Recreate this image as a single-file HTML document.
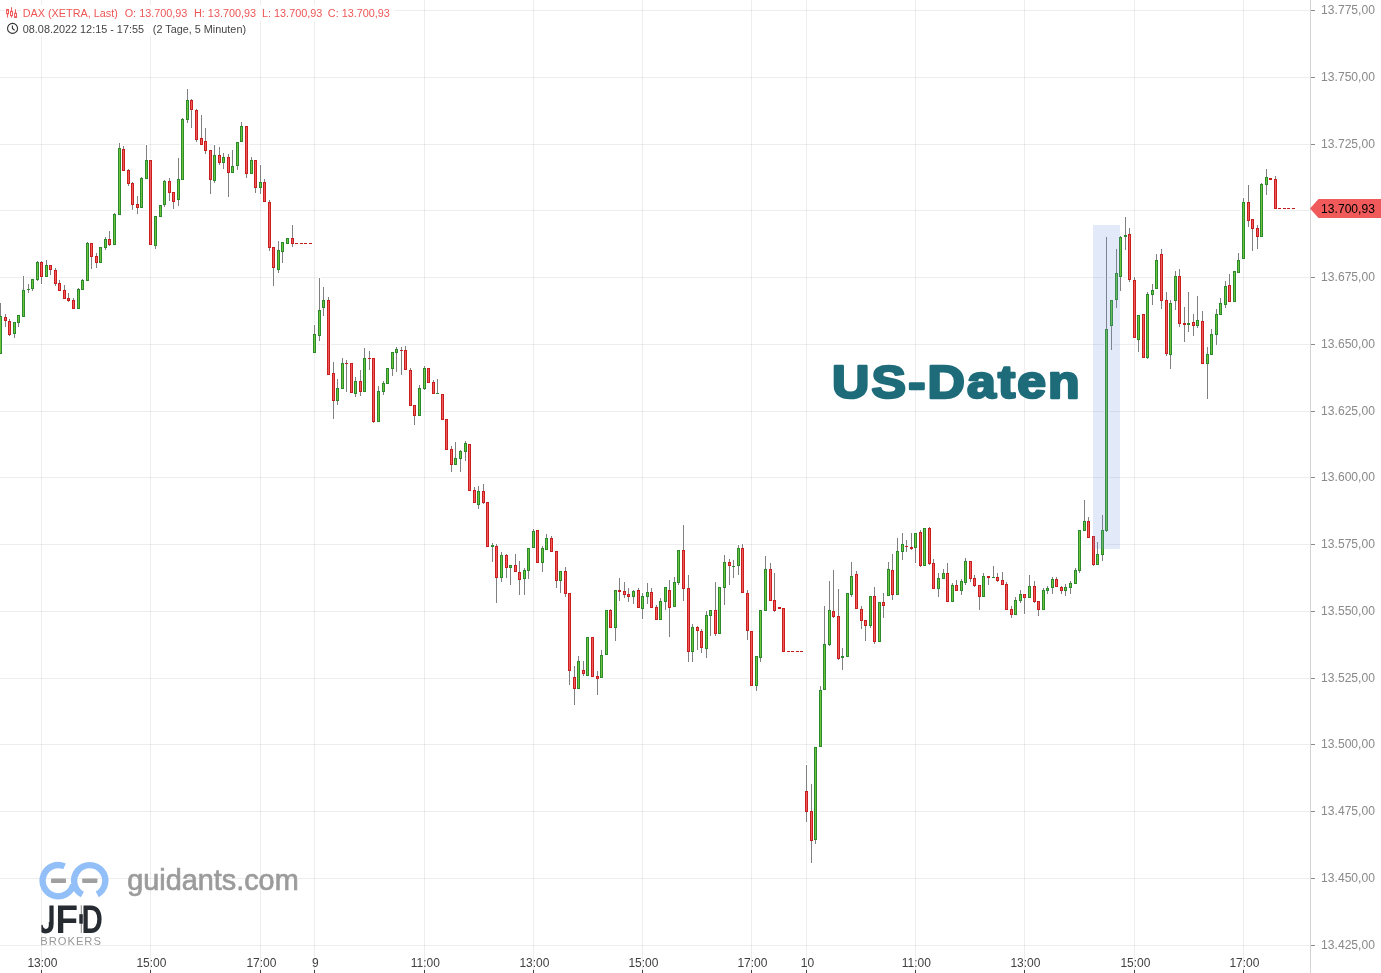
<!DOCTYPE html>
<html><head><meta charset="utf-8"><title>DAX Chart</title><style>
html,body{margin:0;padding:0;background:#fff;}
body{width:1381px;height:973px;overflow:hidden;position:relative;font-family:"Liberation Sans",Arial,sans-serif;}
svg{position:absolute;left:0;top:0;display:block;}
</style></head><body>
<svg width="1381" height="973" viewBox="0 0 1381 973">
<rect x="0" y="0" width="1381" height="973" fill="#fff"/>
<g fill="#000" fill-opacity="0.072">
<rect x="0" y="10" width="1310" height="1"/>
<rect x="0" y="77" width="1310" height="1"/>
<rect x="0" y="144" width="1310" height="1"/>
<rect x="0" y="210" width="1310" height="1"/>
<rect x="0" y="277" width="1310" height="1"/>
<rect x="0" y="344" width="1310" height="1"/>
<rect x="0" y="411" width="1310" height="1"/>
<rect x="0" y="477" width="1310" height="1"/>
<rect x="0" y="544" width="1310" height="1"/>
<rect x="0" y="611" width="1310" height="1"/>
<rect x="0" y="678" width="1310" height="1"/>
<rect x="0" y="744" width="1310" height="1"/>
<rect x="0" y="811" width="1310" height="1"/>
<rect x="0" y="878" width="1310" height="1"/>
<rect x="0" y="945" width="1310" height="1"/>
<rect x="41" y="0" width="1" height="970"/>
<rect x="150" y="0" width="1" height="970"/>
<rect x="260" y="0" width="1" height="970"/>
<rect x="314" y="0" width="1" height="970"/>
<rect x="424" y="0" width="1" height="970"/>
<rect x="533" y="0" width="1" height="970"/>
<rect x="642" y="0" width="1" height="970"/>
<rect x="751" y="0" width="1" height="970"/>
<rect x="806" y="0" width="1" height="970"/>
<rect x="915" y="0" width="1" height="970"/>
<rect x="1024" y="0" width="1" height="970"/>
<rect x="1134" y="0" width="1" height="970"/>
<rect x="1243" y="0" width="1" height="970"/>
</g>
<g id="logo">
<path d="M64.55,866.45 A15.6,15.6 0 1 0 73.27,884.74" fill="none" stroke="#92bff8" stroke-width="6.4"/>
<path d="M82.38,894.47 A15.6,15.6 0 1 1 97.26,894.34" fill="none" stroke="#92bff8" stroke-width="6.4"/>
<rect x="51" y="878.4" width="15" height="4.6" rx="0.8" fill="#a0a0a0"/>
<rect x="82.2" y="878.4" width="15.2" height="4.6" rx="0.8" fill="#a0a0a0"/>
<text x="127.35" y="889.6" font-family="Liberation Sans, Arial, sans-serif" font-size="28.8" fill="#9b9b9b" stroke="#9b9b9b" stroke-width="0.7">guidants.com</text>
<g fill="#262b32" font-family="Liberation Sans, Arial, sans-serif" font-weight="bold" font-size="40.1" text-rendering="geometricPrecision">
<clipPath id="jclip"><path d="M49.4,890 L70,890 L70,940 L41.4,940 L41.4,922 L49.4,922 Z"/></clipPath>
<g clip-path="url(#jclip)">
<text x="0" y="932.9" transform="translate(37.23,0) scale(0.838,1)">J</text>
</g>
<text x="0" y="932.9" transform="translate(55.52,0) scale(0.919,1)">F</text>
<text x="0" y="932.9" transform="translate(81.43,0) scale(0.736,1)">D</text>
</g>
<rect x="80.8" y="905.2" width="0.9" height="27.7" fill="#777"/>
<rect x="79.3" y="914.2" width="3.5" height="9.5" fill="#262b32"/>
<text x="40.2" y="945.3" font-family="Liberation Sans, Arial, sans-serif" font-size="11.2" letter-spacing="1.0" fill="#999">BROKERS</text>
</g>
<text x="0" y="397.95" transform="translate(832.11,0) scale(1.13,1)" font-family="Liberation Sans, Arial, sans-serif" font-weight="bold" font-size="45.8" fill="#1e6b7a" stroke="#1e6b7a" stroke-width="2.5" stroke-linejoin="round" letter-spacing="1.86">US-Daten</text>
<g fill="#fff" shape-rendering="crispEdges"><rect x="-1" y="302" width="3" height="53"/><rect x="-2" y="315" width="5" height="40"/><rect x="4" y="313" width="3" height="15"/><rect x="3" y="316" width="5" height="6"/><rect x="8" y="318" width="3" height="19"/><rect x="7" y="320" width="5" height="16"/><rect x="13" y="321" width="3" height="18"/><rect x="12" y="321" width="5" height="14"/><rect x="17" y="314" width="3" height="14"/><rect x="16" y="314" width="5" height="10"/><rect x="22" y="275" width="3" height="43"/><rect x="21" y="289" width="5" height="29"/><rect x="27" y="283" width="3" height="11"/><rect x="26" y="288" width="5" height="3"/><rect x="31" y="278" width="3" height="14"/><rect x="30" y="278" width="5" height="12"/><rect x="36" y="260" width="3" height="22"/><rect x="35" y="261" width="5" height="20"/><rect x="40" y="260" width="3" height="25"/><rect x="39" y="261" width="5" height="17"/><rect x="45" y="259" width="3" height="19"/><rect x="44" y="264" width="5" height="14"/><rect x="49" y="264" width="3" height="12"/><rect x="48" y="264" width="5" height="7"/><rect x="54" y="267" width="3" height="20"/><rect x="53" y="269" width="5" height="16"/><rect x="58" y="279" width="3" height="13"/><rect x="57" y="282" width="5" height="10"/><rect x="63" y="284" width="3" height="16"/><rect x="62" y="289" width="5" height="11"/><rect x="67" y="292" width="3" height="11"/><rect x="66" y="297" width="5" height="5"/><rect x="72" y="297" width="3" height="13"/><rect x="71" y="299" width="5" height="11"/><rect x="77" y="287" width="3" height="23"/><rect x="76" y="288" width="5" height="22"/><rect x="81" y="278" width="3" height="13"/><rect x="80" y="279" width="5" height="12"/><rect x="86" y="241" width="3" height="41"/><rect x="85" y="242" width="5" height="40"/><rect x="90" y="242" width="3" height="28"/><rect x="89" y="242" width="5" height="16"/><rect x="95" y="252" width="3" height="17"/><rect x="94" y="255" width="5" height="9"/><rect x="99" y="246" width="3" height="18"/><rect x="98" y="246" width="5" height="18"/><rect x="104" y="236" width="3" height="15"/><rect x="103" y="238" width="5" height="11"/><rect x="108" y="230" width="3" height="17"/><rect x="107" y="238" width="5" height="8"/><rect x="113" y="212" width="3" height="34"/><rect x="112" y="213" width="5" height="33"/><rect x="118" y="142" width="3" height="74"/><rect x="117" y="147" width="5" height="69"/><rect x="122" y="145" width="3" height="27"/><rect x="121" y="148" width="5" height="24"/><rect x="127" y="168" width="3" height="19"/><rect x="126" y="169" width="5" height="16"/><rect x="131" y="181" width="3" height="30"/><rect x="130" y="182" width="5" height="24"/><rect x="136" y="195" width="3" height="20"/><rect x="135" y="203" width="5" height="6"/><rect x="140" y="176" width="3" height="33"/><rect x="139" y="177" width="5" height="32"/><rect x="145" y="144" width="3" height="36"/><rect x="144" y="159" width="5" height="21"/><rect x="149" y="159" width="3" height="87"/><rect x="148" y="159" width="5" height="87"/><rect x="154" y="215" width="3" height="35"/><rect x="153" y="215" width="5" height="32"/><rect x="159" y="204" width="3" height="14"/><rect x="158" y="204" width="5" height="14"/><rect x="163" y="179" width="3" height="29"/><rect x="162" y="180" width="5" height="26"/><rect x="168" y="177" width="3" height="25"/><rect x="167" y="180" width="5" height="14"/><rect x="172" y="191" width="3" height="19"/><rect x="171" y="191" width="5" height="12"/><rect x="177" y="157" width="3" height="50"/><rect x="176" y="178" width="5" height="23"/><rect x="181" y="117" width="3" height="64"/><rect x="180" y="118" width="5" height="63"/><rect x="186" y="88" width="3" height="36"/><rect x="185" y="99" width="5" height="22"/><rect x="190" y="98" width="3" height="31"/><rect x="189" y="99" width="5" height="12"/><rect x="195" y="108" width="3" height="35"/><rect x="194" y="109" width="5" height="32"/><rect x="200" y="114" width="3" height="32"/><rect x="199" y="137" width="5" height="9"/><rect x="204" y="127" width="3" height="28"/><rect x="203" y="140" width="5" height="12"/><rect x="209" y="149" width="3" height="46"/><rect x="208" y="149" width="5" height="32"/><rect x="213" y="144" width="3" height="40"/><rect x="212" y="154" width="5" height="28"/><rect x="218" y="146" width="3" height="20"/><rect x="217" y="154" width="5" height="10"/><rect x="222" y="152" width="3" height="18"/><rect x="221" y="156" width="5" height="8"/><rect x="227" y="153" width="3" height="45"/><rect x="226" y="156" width="5" height="18"/><rect x="231" y="149" width="3" height="25"/><rect x="230" y="165" width="5" height="9"/><rect x="236" y="141" width="3" height="30"/><rect x="235" y="141" width="5" height="26"/><rect x="240" y="121" width="3" height="22"/><rect x="239" y="125" width="5" height="18"/><rect x="245" y="125" width="3" height="54"/><rect x="244" y="125" width="5" height="50"/><rect x="250" y="156" width="3" height="19"/><rect x="249" y="159" width="5" height="16"/><rect x="254" y="159" width="3" height="35"/><rect x="253" y="159" width="5" height="30"/><rect x="259" y="164" width="3" height="31"/><rect x="258" y="181" width="5" height="8"/><rect x="263" y="178" width="3" height="25"/><rect x="262" y="181" width="5" height="22"/><rect x="268" y="199" width="3" height="53"/><rect x="267" y="201" width="5" height="48"/><rect x="272" y="246" width="3" height="41"/><rect x="271" y="246" width="5" height="23"/><rect x="277" y="240" width="3" height="34"/><rect x="276" y="249" width="5" height="22"/><rect x="281" y="241" width="3" height="23"/><rect x="280" y="241" width="5" height="12"/><rect x="286" y="237" width="3" height="8"/><rect x="285" y="237" width="5" height="8"/><rect x="291" y="224" width="3" height="24"/><rect x="290" y="237" width="5" height="8"/><rect x="313" y="324" width="3" height="30"/><rect x="312" y="333" width="5" height="21"/><rect x="318" y="277" width="3" height="65"/><rect x="317" y="309" width="5" height="28"/><rect x="322" y="286" width="3" height="31"/><rect x="321" y="299" width="5" height="10"/><rect x="327" y="296" width="3" height="80"/><rect x="326" y="299" width="5" height="77"/><rect x="332" y="361" width="3" height="59"/><rect x="331" y="372" width="5" height="30"/><rect x="336" y="378" width="3" height="28"/><rect x="335" y="387" width="5" height="15"/><rect x="341" y="357" width="3" height="33"/><rect x="340" y="362" width="5" height="28"/><rect x="345" y="359" width="3" height="34"/><rect x="344" y="362" width="5" height="3"/><rect x="350" y="362" width="3" height="32"/><rect x="349" y="362" width="5" height="32"/><rect x="354" y="376" width="3" height="22"/><rect x="353" y="380" width="5" height="15"/><rect x="359" y="369" width="3" height="28"/><rect x="358" y="380" width="5" height="13"/><rect x="363" y="347" width="3" height="46"/><rect x="362" y="357" width="5" height="36"/><rect x="368" y="350" width="3" height="21"/><rect x="367" y="357" width="5" height="3"/><rect x="372" y="357" width="3" height="67"/><rect x="371" y="357" width="5" height="66"/><rect x="377" y="385" width="3" height="38"/><rect x="376" y="390" width="5" height="33"/><rect x="382" y="380" width="3" height="16"/><rect x="381" y="382" width="5" height="11"/><rect x="386" y="367" width="3" height="18"/><rect x="385" y="367" width="5" height="18"/><rect x="391" y="351" width="3" height="26"/><rect x="390" y="351" width="5" height="19"/><rect x="395" y="346" width="3" height="27"/><rect x="394" y="348" width="5" height="6"/><rect x="400" y="346" width="3" height="30"/><rect x="399" y="349" width="5" height="3"/><rect x="404" y="345" width="3" height="26"/><rect x="403" y="349" width="5" height="22"/><rect x="409" y="367" width="3" height="40"/><rect x="408" y="369" width="5" height="38"/><rect x="413" y="404" width="3" height="22"/><rect x="412" y="404" width="5" height="13"/><rect x="418" y="384" width="3" height="33"/><rect x="417" y="387" width="5" height="30"/><rect x="423" y="365" width="3" height="26"/><rect x="422" y="367" width="5" height="23"/><rect x="427" y="367" width="3" height="17"/><rect x="426" y="367" width="5" height="17"/><rect x="432" y="379" width="3" height="16"/><rect x="431" y="381" width="5" height="14"/><rect x="436" y="378" width="3" height="17"/><rect x="435" y="392" width="5" height="3"/><rect x="441" y="393" width="3" height="28"/><rect x="440" y="393" width="5" height="28"/><rect x="445" y="418" width="3" height="33"/><rect x="444" y="418" width="5" height="33"/><rect x="450" y="445" width="3" height="28"/><rect x="449" y="448" width="5" height="18"/><rect x="454" y="441" width="3" height="25"/><rect x="453" y="457" width="5" height="9"/><rect x="459" y="449" width="3" height="24"/><rect x="458" y="450" width="5" height="10"/><rect x="464" y="440" width="3" height="22"/><rect x="463" y="442" width="5" height="11"/><rect x="468" y="443" width="3" height="49"/><rect x="467" y="443" width="5" height="49"/><rect x="473" y="486" width="3" height="18"/><rect x="472" y="489" width="5" height="15"/><rect x="477" y="485" width="3" height="25"/><rect x="476" y="490" width="5" height="16"/><rect x="482" y="483" width="3" height="22"/><rect x="481" y="490" width="5" height="14"/><rect x="486" y="501" width="3" height="47"/><rect x="485" y="501" width="5" height="47"/><rect x="491" y="542" width="3" height="21"/><rect x="490" y="544" width="5" height="4"/><rect x="495" y="543" width="3" height="61"/><rect x="494" y="545" width="5" height="34"/><rect x="500" y="551" width="3" height="32"/><rect x="499" y="554" width="5" height="25"/><rect x="505" y="553" width="3" height="26"/><rect x="504" y="554" width="5" height="15"/><rect x="509" y="564" width="3" height="22"/><rect x="508" y="564" width="5" height="5"/><rect x="514" y="553" width="3" height="20"/><rect x="513" y="564" width="5" height="9"/><rect x="518" y="560" width="3" height="36"/><rect x="517" y="571" width="5" height="10"/><rect x="523" y="567" width="3" height="29"/><rect x="522" y="569" width="5" height="11"/><rect x="527" y="547" width="3" height="33"/><rect x="526" y="547" width="5" height="25"/><rect x="532" y="528" width="3" height="21"/><rect x="531" y="530" width="5" height="19"/><rect x="536" y="529" width="3" height="35"/><rect x="535" y="529" width="5" height="35"/><rect x="541" y="545" width="3" height="28"/><rect x="540" y="547" width="5" height="17"/><rect x="545" y="533" width="3" height="18"/><rect x="544" y="537" width="5" height="14"/><rect x="550" y="535" width="3" height="18"/><rect x="549" y="537" width="5" height="16"/><rect x="555" y="550" width="3" height="39"/><rect x="554" y="550" width="5" height="32"/><rect x="559" y="570" width="3" height="24"/><rect x="558" y="570" width="5" height="12"/><rect x="564" y="566" width="3" height="32"/><rect x="563" y="570" width="5" height="25"/><rect x="568" y="592" width="3" height="94"/><rect x="567" y="592" width="5" height="80"/><rect x="573" y="665" width="3" height="41"/><rect x="572" y="676" width="5" height="14"/><rect x="577" y="655" width="3" height="35"/><rect x="576" y="660" width="5" height="30"/><rect x="582" y="660" width="3" height="17"/><rect x="581" y="669" width="5" height="6"/><rect x="586" y="636" width="3" height="41"/><rect x="585" y="636" width="5" height="41"/><rect x="591" y="636" width="3" height="42"/><rect x="590" y="636" width="5" height="42"/><rect x="596" y="670" width="3" height="26"/><rect x="595" y="675" width="5" height="5"/><rect x="600" y="649" width="3" height="30"/><rect x="599" y="654" width="5" height="25"/><rect x="605" y="609" width="3" height="47"/><rect x="604" y="609" width="5" height="47"/><rect x="609" y="608" width="3" height="21"/><rect x="608" y="609" width="5" height="20"/><rect x="614" y="589" width="3" height="53"/><rect x="613" y="589" width="5" height="40"/><rect x="618" y="577" width="3" height="25"/><rect x="617" y="589" width="5" height="4"/><rect x="623" y="581" width="3" height="18"/><rect x="622" y="590" width="5" height="6"/><rect x="627" y="587" width="3" height="16"/><rect x="626" y="593" width="5" height="5"/><rect x="632" y="589" width="3" height="16"/><rect x="631" y="590" width="5" height="8"/><rect x="637" y="587" width="3" height="22"/><rect x="636" y="589" width="5" height="20"/><rect x="641" y="592" width="3" height="28"/><rect x="640" y="595" width="5" height="15"/><rect x="646" y="582" width="3" height="23"/><rect x="645" y="591" width="5" height="7"/><rect x="650" y="587" width="3" height="22"/><rect x="649" y="591" width="5" height="18"/><rect x="655" y="604" width="3" height="17"/><rect x="654" y="606" width="5" height="15"/><rect x="659" y="597" width="3" height="24"/><rect x="658" y="600" width="5" height="21"/><rect x="664" y="586" width="3" height="25"/><rect x="663" y="586" width="5" height="17"/><rect x="668" y="579" width="3" height="59"/><rect x="667" y="589" width="5" height="20"/><rect x="673" y="576" width="3" height="32"/><rect x="672" y="581" width="5" height="27"/><rect x="677" y="549" width="3" height="37"/><rect x="676" y="549" width="5" height="35"/><rect x="682" y="524" width="3" height="78"/><rect x="681" y="549" width="5" height="41"/><rect x="687" y="574" width="3" height="89"/><rect x="686" y="587" width="5" height="66"/><rect x="691" y="623" width="3" height="40"/><rect x="690" y="626" width="5" height="27"/><rect x="696" y="625" width="3" height="26"/><rect x="695" y="626" width="5" height="6"/><rect x="700" y="628" width="3" height="26"/><rect x="699" y="630" width="5" height="19"/><rect x="705" y="610" width="3" height="49"/><rect x="704" y="614" width="5" height="36"/><rect x="709" y="609" width="3" height="28"/><rect x="708" y="609" width="5" height="8"/><rect x="714" y="581" width="3" height="56"/><rect x="713" y="609" width="5" height="26"/><rect x="718" y="586" width="3" height="49"/><rect x="717" y="586" width="5" height="49"/><rect x="723" y="554" width="3" height="52"/><rect x="722" y="561" width="5" height="28"/><rect x="728" y="558" width="3" height="28"/><rect x="727" y="561" width="5" height="6"/><rect x="732" y="559" width="3" height="20"/><rect x="731" y="565" width="5" height="3"/><rect x="737" y="544" width="3" height="32"/><rect x="736" y="547" width="5" height="20"/><rect x="741" y="543" width="3" height="51"/><rect x="740" y="547" width="5" height="47"/><rect x="746" y="589" width="3" height="52"/><rect x="745" y="592" width="5" height="40"/><rect x="750" y="630" width="3" height="57"/><rect x="749" y="630" width="5" height="57"/><rect x="755" y="655" width="3" height="37"/><rect x="754" y="655" width="5" height="32"/><rect x="759" y="609" width="3" height="54"/><rect x="758" y="609" width="5" height="50"/><rect x="764" y="555" width="3" height="57"/><rect x="763" y="568" width="5" height="44"/><rect x="769" y="562" width="3" height="40"/><rect x="768" y="568" width="5" height="34"/><rect x="773" y="572" width="3" height="41"/><rect x="772" y="599" width="5" height="13"/><rect x="782" y="607" width="3" height="46"/><rect x="781" y="607" width="5" height="46"/><rect x="805" y="764" width="3" height="59"/><rect x="804" y="790" width="5" height="23"/><rect x="810" y="783" width="3" height="81"/><rect x="809" y="810" width="5" height="32"/><rect x="814" y="746" width="3" height="99"/><rect x="813" y="746" width="5" height="95"/><rect x="819" y="685" width="3" height="63"/><rect x="818" y="689" width="5" height="59"/><rect x="823" y="605" width="3" height="86"/><rect x="822" y="643" width="5" height="48"/><rect x="828" y="580" width="3" height="67"/><rect x="827" y="609" width="5" height="37"/><rect x="832" y="569" width="3" height="50"/><rect x="831" y="610" width="5" height="8"/><rect x="837" y="588" width="3" height="73"/><rect x="836" y="615" width="5" height="45"/><rect x="841" y="647" width="3" height="24"/><rect x="840" y="655" width="5" height="4"/><rect x="846" y="592" width="3" height="66"/><rect x="845" y="592" width="5" height="66"/><rect x="850" y="561" width="3" height="37"/><rect x="849" y="575" width="5" height="21"/><rect x="855" y="570" width="3" height="40"/><rect x="854" y="573" width="5" height="37"/><rect x="860" y="605" width="3" height="25"/><rect x="859" y="608" width="5" height="14"/><rect x="864" y="619" width="3" height="23"/><rect x="863" y="619" width="5" height="8"/><rect x="869" y="595" width="3" height="34"/><rect x="868" y="595" width="5" height="32"/><rect x="873" y="586" width="3" height="59"/><rect x="872" y="595" width="5" height="48"/><rect x="878" y="601" width="3" height="42"/><rect x="877" y="601" width="5" height="42"/><rect x="882" y="592" width="3" height="27"/><rect x="881" y="601" width="5" height="6"/><rect x="887" y="561" width="3" height="36"/><rect x="886" y="568" width="5" height="29"/><rect x="891" y="553" width="3" height="48"/><rect x="890" y="569" width="5" height="27"/><rect x="896" y="537" width="3" height="59"/><rect x="895" y="550" width="5" height="46"/><rect x="901" y="532" width="3" height="29"/><rect x="900" y="543" width="5" height="10"/><rect x="905" y="539" width="3" height="14"/><rect x="904" y="545" width="5" height="3"/><rect x="910" y="532" width="3" height="19"/><rect x="909" y="546" width="5" height="4"/><rect x="914" y="532" width="3" height="32"/><rect x="913" y="532" width="5" height="17"/><rect x="919" y="529" width="3" height="39"/><rect x="918" y="531" width="5" height="36"/><rect x="923" y="527" width="3" height="40"/><rect x="922" y="527" width="5" height="40"/><rect x="928" y="526" width="3" height="40"/><rect x="927" y="527" width="5" height="38"/><rect x="932" y="558" width="3" height="32"/><rect x="931" y="562" width="5" height="28"/><rect x="937" y="572" width="3" height="26"/><rect x="936" y="577" width="5" height="13"/><rect x="942" y="568" width="3" height="12"/><rect x="941" y="572" width="5" height="8"/><rect x="946" y="562" width="3" height="41"/><rect x="945" y="572" width="5" height="31"/><rect x="951" y="582" width="3" height="21"/><rect x="950" y="584" width="5" height="19"/><rect x="955" y="579" width="3" height="13"/><rect x="954" y="584" width="5" height="8"/><rect x="960" y="578" width="3" height="18"/><rect x="959" y="580" width="5" height="12"/><rect x="964" y="557" width="3" height="29"/><rect x="963" y="560" width="5" height="24"/><rect x="969" y="560" width="3" height="23"/><rect x="968" y="560" width="5" height="20"/><rect x="973" y="574" width="3" height="14"/><rect x="972" y="577" width="5" height="10"/><rect x="978" y="584" width="3" height="27"/><rect x="977" y="584" width="5" height="14"/><rect x="982" y="572" width="3" height="26"/><rect x="981" y="575" width="5" height="23"/><rect x="987" y="575" width="3" height="11"/><rect x="986" y="575" width="5" height="4"/><rect x="992" y="565" width="3" height="14"/><rect x="991" y="576" width="5" height="3"/><rect x="996" y="572" width="3" height="11"/><rect x="995" y="576" width="5" height="6"/><rect x="1001" y="571" width="3" height="15"/><rect x="1000" y="579" width="5" height="7"/><rect x="1005" y="581" width="3" height="30"/><rect x="1004" y="583" width="5" height="28"/><rect x="1010" y="605" width="3" height="14"/><rect x="1009" y="608" width="5" height="8"/><rect x="1014" y="596" width="3" height="20"/><rect x="1013" y="599" width="5" height="17"/><rect x="1019" y="589" width="3" height="15"/><rect x="1018" y="593" width="5" height="9"/><rect x="1023" y="593" width="3" height="22"/><rect x="1022" y="593" width="5" height="6"/><rect x="1028" y="574" width="3" height="25"/><rect x="1027" y="585" width="5" height="14"/><rect x="1033" y="580" width="3" height="24"/><rect x="1032" y="585" width="5" height="18"/><rect x="1037" y="600" width="3" height="17"/><rect x="1036" y="600" width="5" height="11"/><rect x="1042" y="587" width="3" height="24"/><rect x="1041" y="589" width="5" height="22"/><rect x="1046" y="585" width="3" height="10"/><rect x="1045" y="587" width="5" height="5"/><rect x="1051" y="576" width="3" height="19"/><rect x="1050" y="578" width="5" height="11"/><rect x="1055" y="576" width="3" height="12"/><rect x="1054" y="578" width="5" height="10"/><rect x="1060" y="585" width="3" height="10"/><rect x="1059" y="586" width="5" height="6"/><rect x="1064" y="583" width="3" height="14"/><rect x="1063" y="586" width="5" height="6"/><rect x="1069" y="580" width="3" height="15"/><rect x="1068" y="582" width="5" height="7"/><rect x="1074" y="567" width="3" height="18"/><rect x="1073" y="569" width="5" height="16"/><rect x="1078" y="529" width="3" height="45"/><rect x="1077" y="529" width="5" height="43"/><rect x="1083" y="499" width="3" height="33"/><rect x="1082" y="520" width="5" height="12"/><rect x="1087" y="516" width="3" height="23"/><rect x="1086" y="520" width="5" height="19"/><rect x="1092" y="535" width="3" height="32"/><rect x="1091" y="535" width="5" height="31"/><rect x="1096" y="541" width="3" height="25"/><rect x="1095" y="553" width="5" height="13"/><rect x="1101" y="514" width="3" height="48"/><rect x="1100" y="529" width="5" height="27"/><rect x="1105" y="236" width="3" height="297"/><rect x="1104" y="328" width="5" height="204"/><rect x="1110" y="299" width="3" height="52"/><rect x="1109" y="299" width="5" height="28"/><rect x="1115" y="248" width="3" height="61"/><rect x="1114" y="272" width="5" height="29"/><rect x="1119" y="235" width="3" height="57"/><rect x="1118" y="236" width="5" height="42"/><rect x="1124" y="216" width="3" height="35"/><rect x="1123" y="234" width="5" height="4"/><rect x="1128" y="227" width="3" height="56"/><rect x="1127" y="233" width="5" height="48"/><rect x="1133" y="276" width="3" height="63"/><rect x="1132" y="279" width="5" height="60"/><rect x="1137" y="314" width="3" height="39"/><rect x="1136" y="314" width="5" height="27"/><rect x="1142" y="313" width="3" height="46"/><rect x="1141" y="313" width="5" height="46"/><rect x="1146" y="291" width="3" height="69"/><rect x="1145" y="293" width="5" height="66"/><rect x="1151" y="283" width="3" height="23"/><rect x="1150" y="289" width="5" height="7"/><rect x="1155" y="253" width="3" height="37"/><rect x="1154" y="259" width="5" height="31"/><rect x="1160" y="248" width="3" height="62"/><rect x="1159" y="253" width="5" height="49"/><rect x="1165" y="291" width="3" height="66"/><rect x="1164" y="299" width="5" height="56"/><rect x="1169" y="299" width="3" height="71"/><rect x="1168" y="302" width="5" height="54"/><rect x="1174" y="270" width="3" height="41"/><rect x="1173" y="275" width="5" height="27"/><rect x="1178" y="268" width="3" height="60"/><rect x="1177" y="275" width="5" height="50"/><rect x="1183" y="306" width="3" height="37"/><rect x="1182" y="322" width="5" height="4"/><rect x="1187" y="291" width="3" height="42"/><rect x="1186" y="322" width="5" height="4"/><rect x="1192" y="313" width="3" height="24"/><rect x="1191" y="321" width="5" height="6"/><rect x="1196" y="295" width="3" height="34"/><rect x="1195" y="319" width="5" height="8"/><rect x="1201" y="310" width="3" height="55"/><rect x="1200" y="320" width="5" height="45"/><rect x="1206" y="346" width="3" height="54"/><rect x="1205" y="353" width="5" height="12"/><rect x="1210" y="328" width="3" height="28"/><rect x="1209" y="333" width="5" height="23"/><rect x="1215" y="308" width="3" height="38"/><rect x="1214" y="313" width="5" height="23"/><rect x="1219" y="297" width="3" height="19"/><rect x="1218" y="302" width="5" height="14"/><rect x="1224" y="280" width="3" height="29"/><rect x="1223" y="285" width="5" height="21"/><rect x="1228" y="273" width="3" height="30"/><rect x="1227" y="284" width="5" height="19"/><rect x="1233" y="270" width="3" height="33"/><rect x="1232" y="270" width="5" height="33"/><rect x="1237" y="252" width="3" height="22"/><rect x="1236" y="259" width="5" height="15"/><rect x="1242" y="197" width="3" height="63"/><rect x="1241" y="201" width="5" height="59"/><rect x="1247" y="184" width="3" height="44"/><rect x="1246" y="201" width="5" height="21"/><rect x="1251" y="218" width="3" height="34"/><rect x="1250" y="218" width="5" height="12"/><rect x="1256" y="224" width="3" height="26"/><rect x="1255" y="227" width="5" height="11"/><rect x="1260" y="182" width="3" height="56"/><rect x="1259" y="183" width="5" height="55"/><rect x="1265" y="168" width="3" height="28"/><rect x="1264" y="176" width="5" height="10"/><rect x="1274" y="175" width="3" height="35"/><rect x="1273" y="178" width="5" height="32"/></g>
<g fill="#808080" shape-rendering="crispEdges"><rect x="0" y="303" width="1" height="51"/><rect x="5" y="314" width="1" height="13"/><rect x="9" y="319" width="1" height="17"/><rect x="14" y="322" width="1" height="16"/><rect x="18" y="315" width="1" height="12"/><rect x="23" y="276" width="1" height="41"/><rect x="28" y="284" width="1" height="9"/><rect x="32" y="279" width="1" height="12"/><rect x="37" y="261" width="1" height="20"/><rect x="41" y="261" width="1" height="23"/><rect x="46" y="260" width="1" height="17"/><rect x="50" y="265" width="1" height="10"/><rect x="55" y="268" width="1" height="18"/><rect x="59" y="280" width="1" height="11"/><rect x="64" y="285" width="1" height="14"/><rect x="68" y="293" width="1" height="9"/><rect x="73" y="298" width="1" height="11"/><rect x="78" y="288" width="1" height="21"/><rect x="82" y="279" width="1" height="11"/><rect x="87" y="242" width="1" height="39"/><rect x="91" y="243" width="1" height="26"/><rect x="96" y="253" width="1" height="15"/><rect x="100" y="247" width="1" height="16"/><rect x="105" y="237" width="1" height="13"/><rect x="109" y="231" width="1" height="15"/><rect x="114" y="213" width="1" height="32"/><rect x="119" y="143" width="1" height="72"/><rect x="123" y="146" width="1" height="25"/><rect x="128" y="169" width="1" height="17"/><rect x="132" y="182" width="1" height="28"/><rect x="137" y="196" width="1" height="18"/><rect x="141" y="177" width="1" height="31"/><rect x="146" y="145" width="1" height="34"/><rect x="150" y="160" width="1" height="85"/><rect x="155" y="216" width="1" height="33"/><rect x="160" y="205" width="1" height="12"/><rect x="164" y="180" width="1" height="27"/><rect x="169" y="178" width="1" height="23"/><rect x="173" y="192" width="1" height="17"/><rect x="178" y="158" width="1" height="48"/><rect x="182" y="118" width="1" height="62"/><rect x="187" y="89" width="1" height="34"/><rect x="191" y="99" width="1" height="29"/><rect x="196" y="109" width="1" height="33"/><rect x="201" y="115" width="1" height="30"/><rect x="205" y="128" width="1" height="26"/><rect x="210" y="150" width="1" height="44"/><rect x="214" y="145" width="1" height="38"/><rect x="219" y="147" width="1" height="18"/><rect x="223" y="153" width="1" height="16"/><rect x="228" y="154" width="1" height="43"/><rect x="232" y="150" width="1" height="23"/><rect x="237" y="142" width="1" height="28"/><rect x="241" y="122" width="1" height="20"/><rect x="246" y="126" width="1" height="52"/><rect x="251" y="157" width="1" height="17"/><rect x="255" y="160" width="1" height="33"/><rect x="260" y="165" width="1" height="29"/><rect x="264" y="179" width="1" height="23"/><rect x="269" y="200" width="1" height="51"/><rect x="273" y="247" width="1" height="39"/><rect x="278" y="241" width="1" height="32"/><rect x="282" y="242" width="1" height="21"/><rect x="287" y="238" width="1" height="6"/><rect x="292" y="225" width="1" height="22"/><rect x="314" y="325" width="1" height="28"/><rect x="319" y="278" width="1" height="63"/><rect x="323" y="287" width="1" height="29"/><rect x="328" y="297" width="1" height="78"/><rect x="333" y="362" width="1" height="57"/><rect x="337" y="379" width="1" height="26"/><rect x="342" y="358" width="1" height="31"/><rect x="346" y="360" width="1" height="32"/><rect x="351" y="363" width="1" height="30"/><rect x="355" y="377" width="1" height="20"/><rect x="360" y="370" width="1" height="26"/><rect x="364" y="348" width="1" height="44"/><rect x="369" y="351" width="1" height="19"/><rect x="373" y="358" width="1" height="65"/><rect x="378" y="386" width="1" height="36"/><rect x="383" y="381" width="1" height="14"/><rect x="387" y="368" width="1" height="16"/><rect x="392" y="352" width="1" height="24"/><rect x="396" y="347" width="1" height="25"/><rect x="401" y="347" width="1" height="28"/><rect x="405" y="346" width="1" height="24"/><rect x="410" y="368" width="1" height="38"/><rect x="414" y="405" width="1" height="20"/><rect x="419" y="385" width="1" height="31"/><rect x="424" y="366" width="1" height="24"/><rect x="428" y="368" width="1" height="15"/><rect x="433" y="380" width="1" height="14"/><rect x="437" y="379" width="1" height="15"/><rect x="442" y="394" width="1" height="26"/><rect x="446" y="419" width="1" height="31"/><rect x="451" y="446" width="1" height="26"/><rect x="455" y="442" width="1" height="23"/><rect x="460" y="450" width="1" height="22"/><rect x="465" y="441" width="1" height="20"/><rect x="469" y="444" width="1" height="47"/><rect x="474" y="487" width="1" height="16"/><rect x="478" y="486" width="1" height="23"/><rect x="483" y="484" width="1" height="20"/><rect x="487" y="502" width="1" height="45"/><rect x="492" y="543" width="1" height="19"/><rect x="496" y="544" width="1" height="59"/><rect x="501" y="552" width="1" height="30"/><rect x="506" y="554" width="1" height="24"/><rect x="510" y="565" width="1" height="20"/><rect x="515" y="554" width="1" height="18"/><rect x="519" y="561" width="1" height="34"/><rect x="524" y="568" width="1" height="27"/><rect x="528" y="548" width="1" height="31"/><rect x="533" y="529" width="1" height="19"/><rect x="537" y="530" width="1" height="33"/><rect x="542" y="546" width="1" height="26"/><rect x="546" y="534" width="1" height="16"/><rect x="551" y="536" width="1" height="16"/><rect x="556" y="551" width="1" height="37"/><rect x="560" y="571" width="1" height="22"/><rect x="565" y="567" width="1" height="30"/><rect x="569" y="593" width="1" height="92"/><rect x="574" y="666" width="1" height="39"/><rect x="578" y="656" width="1" height="33"/><rect x="583" y="661" width="1" height="15"/><rect x="587" y="637" width="1" height="39"/><rect x="592" y="637" width="1" height="40"/><rect x="597" y="671" width="1" height="24"/><rect x="601" y="650" width="1" height="28"/><rect x="606" y="610" width="1" height="45"/><rect x="610" y="609" width="1" height="19"/><rect x="615" y="590" width="1" height="51"/><rect x="619" y="578" width="1" height="23"/><rect x="624" y="582" width="1" height="16"/><rect x="628" y="588" width="1" height="14"/><rect x="633" y="590" width="1" height="14"/><rect x="638" y="588" width="1" height="20"/><rect x="642" y="593" width="1" height="26"/><rect x="647" y="583" width="1" height="21"/><rect x="651" y="588" width="1" height="20"/><rect x="656" y="605" width="1" height="15"/><rect x="660" y="598" width="1" height="22"/><rect x="665" y="587" width="1" height="23"/><rect x="669" y="580" width="1" height="57"/><rect x="674" y="577" width="1" height="30"/><rect x="678" y="550" width="1" height="35"/><rect x="683" y="525" width="1" height="76"/><rect x="688" y="575" width="1" height="87"/><rect x="692" y="624" width="1" height="38"/><rect x="697" y="626" width="1" height="24"/><rect x="701" y="629" width="1" height="24"/><rect x="706" y="611" width="1" height="47"/><rect x="710" y="610" width="1" height="26"/><rect x="715" y="582" width="1" height="54"/><rect x="719" y="587" width="1" height="47"/><rect x="724" y="555" width="1" height="50"/><rect x="729" y="559" width="1" height="26"/><rect x="733" y="560" width="1" height="18"/><rect x="738" y="545" width="1" height="30"/><rect x="742" y="544" width="1" height="49"/><rect x="747" y="590" width="1" height="50"/><rect x="751" y="631" width="1" height="55"/><rect x="756" y="656" width="1" height="35"/><rect x="760" y="610" width="1" height="52"/><rect x="765" y="556" width="1" height="55"/><rect x="770" y="563" width="1" height="38"/><rect x="774" y="573" width="1" height="39"/><rect x="783" y="608" width="1" height="44"/><rect x="806" y="765" width="1" height="57"/><rect x="811" y="784" width="1" height="79"/><rect x="815" y="747" width="1" height="97"/><rect x="820" y="686" width="1" height="61"/><rect x="824" y="606" width="1" height="84"/><rect x="829" y="581" width="1" height="65"/><rect x="833" y="570" width="1" height="48"/><rect x="838" y="589" width="1" height="71"/><rect x="842" y="648" width="1" height="22"/><rect x="847" y="593" width="1" height="64"/><rect x="851" y="562" width="1" height="35"/><rect x="856" y="571" width="1" height="38"/><rect x="861" y="606" width="1" height="23"/><rect x="865" y="620" width="1" height="21"/><rect x="870" y="596" width="1" height="32"/><rect x="874" y="587" width="1" height="57"/><rect x="879" y="602" width="1" height="40"/><rect x="883" y="593" width="1" height="25"/><rect x="888" y="562" width="1" height="34"/><rect x="892" y="554" width="1" height="46"/><rect x="897" y="538" width="1" height="57"/><rect x="902" y="533" width="1" height="27"/><rect x="906" y="540" width="1" height="12"/><rect x="911" y="533" width="1" height="17"/><rect x="915" y="533" width="1" height="30"/><rect x="920" y="530" width="1" height="37"/><rect x="924" y="528" width="1" height="38"/><rect x="929" y="527" width="1" height="38"/><rect x="933" y="559" width="1" height="30"/><rect x="938" y="573" width="1" height="24"/><rect x="943" y="569" width="1" height="10"/><rect x="947" y="563" width="1" height="39"/><rect x="952" y="583" width="1" height="19"/><rect x="956" y="580" width="1" height="11"/><rect x="961" y="579" width="1" height="16"/><rect x="965" y="558" width="1" height="27"/><rect x="970" y="561" width="1" height="21"/><rect x="974" y="575" width="1" height="12"/><rect x="979" y="585" width="1" height="25"/><rect x="983" y="573" width="1" height="24"/><rect x="988" y="576" width="1" height="9"/><rect x="993" y="566" width="1" height="12"/><rect x="997" y="573" width="1" height="9"/><rect x="1002" y="572" width="1" height="13"/><rect x="1006" y="582" width="1" height="28"/><rect x="1011" y="606" width="1" height="12"/><rect x="1015" y="597" width="1" height="18"/><rect x="1020" y="590" width="1" height="13"/><rect x="1024" y="594" width="1" height="20"/><rect x="1029" y="575" width="1" height="23"/><rect x="1034" y="581" width="1" height="22"/><rect x="1038" y="601" width="1" height="15"/><rect x="1043" y="588" width="1" height="22"/><rect x="1047" y="586" width="1" height="8"/><rect x="1052" y="577" width="1" height="17"/><rect x="1056" y="577" width="1" height="10"/><rect x="1061" y="586" width="1" height="8"/><rect x="1065" y="584" width="1" height="12"/><rect x="1070" y="581" width="1" height="13"/><rect x="1075" y="568" width="1" height="16"/><rect x="1079" y="530" width="1" height="43"/><rect x="1084" y="500" width="1" height="31"/><rect x="1088" y="517" width="1" height="21"/><rect x="1093" y="536" width="1" height="30"/><rect x="1097" y="542" width="1" height="23"/><rect x="1102" y="515" width="1" height="46"/><rect x="1106" y="237" width="1" height="295"/><rect x="1111" y="300" width="1" height="50"/><rect x="1116" y="249" width="1" height="59"/><rect x="1120" y="236" width="1" height="55"/><rect x="1125" y="217" width="1" height="33"/><rect x="1129" y="228" width="1" height="54"/><rect x="1134" y="277" width="1" height="61"/><rect x="1138" y="315" width="1" height="37"/><rect x="1143" y="314" width="1" height="44"/><rect x="1147" y="292" width="1" height="67"/><rect x="1152" y="284" width="1" height="21"/><rect x="1156" y="254" width="1" height="35"/><rect x="1161" y="249" width="1" height="60"/><rect x="1166" y="292" width="1" height="64"/><rect x="1170" y="300" width="1" height="69"/><rect x="1175" y="271" width="1" height="39"/><rect x="1179" y="269" width="1" height="58"/><rect x="1184" y="307" width="1" height="35"/><rect x="1188" y="292" width="1" height="40"/><rect x="1193" y="314" width="1" height="22"/><rect x="1197" y="296" width="1" height="32"/><rect x="1202" y="311" width="1" height="53"/><rect x="1207" y="347" width="1" height="52"/><rect x="1211" y="329" width="1" height="26"/><rect x="1216" y="309" width="1" height="36"/><rect x="1220" y="298" width="1" height="17"/><rect x="1225" y="281" width="1" height="27"/><rect x="1229" y="274" width="1" height="28"/><rect x="1234" y="271" width="1" height="31"/><rect x="1238" y="253" width="1" height="20"/><rect x="1243" y="198" width="1" height="61"/><rect x="1248" y="185" width="1" height="42"/><rect x="1252" y="219" width="1" height="32"/><rect x="1257" y="225" width="1" height="24"/><rect x="1261" y="183" width="1" height="54"/><rect x="1266" y="169" width="1" height="26"/><rect x="1275" y="176" width="1" height="33"/></g>
<g shape-rendering="crispEdges"><rect x="-1" y="316" width="3" height="38" fill="#2b8a2b"/><rect x="0" y="317" width="1" height="36" fill="#6cc43c"/><rect x="4" y="317" width="3" height="4" fill="#c81e1e"/><rect x="5" y="318" width="1" height="2" fill="#f05a5a"/><rect x="8" y="321" width="3" height="14" fill="#c81e1e"/><rect x="9" y="322" width="1" height="12" fill="#f05a5a"/><rect x="13" y="322" width="3" height="12" fill="#2b8a2b"/><rect x="14" y="323" width="1" height="10" fill="#6cc43c"/><rect x="17" y="315" width="3" height="8" fill="#2b8a2b"/><rect x="18" y="316" width="1" height="6" fill="#6cc43c"/><rect x="22" y="290" width="3" height="27" fill="#2b8a2b"/><rect x="23" y="291" width="1" height="25" fill="#6cc43c"/><rect x="27" y="289" width="3" height="1" fill="#2b8a2b"/><rect x="31" y="279" width="3" height="10" fill="#2b8a2b"/><rect x="32" y="280" width="1" height="8" fill="#6cc43c"/><rect x="36" y="262" width="3" height="18" fill="#2b8a2b"/><rect x="37" y="263" width="1" height="16" fill="#6cc43c"/><rect x="40" y="262" width="3" height="15" fill="#c81e1e"/><rect x="41" y="263" width="1" height="13" fill="#f05a5a"/><rect x="45" y="265" width="3" height="12" fill="#2b8a2b"/><rect x="46" y="266" width="1" height="10" fill="#6cc43c"/><rect x="49" y="265" width="3" height="5" fill="#c81e1e"/><rect x="50" y="266" width="1" height="3" fill="#f05a5a"/><rect x="54" y="270" width="3" height="14" fill="#c81e1e"/><rect x="55" y="271" width="1" height="12" fill="#f05a5a"/><rect x="58" y="283" width="3" height="8" fill="#c81e1e"/><rect x="59" y="284" width="1" height="6" fill="#f05a5a"/><rect x="63" y="290" width="3" height="9" fill="#c81e1e"/><rect x="64" y="291" width="1" height="7" fill="#f05a5a"/><rect x="67" y="298" width="3" height="3" fill="#c81e1e"/><rect x="68" y="299" width="1" height="1" fill="#f05a5a"/><rect x="72" y="300" width="3" height="9" fill="#c81e1e"/><rect x="73" y="301" width="1" height="7" fill="#f05a5a"/><rect x="77" y="289" width="3" height="20" fill="#2b8a2b"/><rect x="78" y="290" width="1" height="18" fill="#6cc43c"/><rect x="81" y="280" width="3" height="10" fill="#2b8a2b"/><rect x="82" y="281" width="1" height="8" fill="#6cc43c"/><rect x="86" y="243" width="3" height="38" fill="#2b8a2b"/><rect x="87" y="244" width="1" height="36" fill="#6cc43c"/><rect x="90" y="243" width="3" height="14" fill="#c81e1e"/><rect x="91" y="244" width="1" height="12" fill="#f05a5a"/><rect x="95" y="256" width="3" height="7" fill="#c81e1e"/><rect x="96" y="257" width="1" height="5" fill="#f05a5a"/><rect x="99" y="247" width="3" height="16" fill="#2b8a2b"/><rect x="100" y="248" width="1" height="14" fill="#6cc43c"/><rect x="104" y="239" width="3" height="9" fill="#2b8a2b"/><rect x="105" y="240" width="1" height="7" fill="#6cc43c"/><rect x="108" y="239" width="3" height="6" fill="#c81e1e"/><rect x="109" y="240" width="1" height="4" fill="#f05a5a"/><rect x="113" y="214" width="3" height="31" fill="#2b8a2b"/><rect x="114" y="215" width="1" height="29" fill="#6cc43c"/><rect x="118" y="148" width="3" height="67" fill="#2b8a2b"/><rect x="119" y="149" width="1" height="65" fill="#6cc43c"/><rect x="122" y="149" width="3" height="22" fill="#c81e1e"/><rect x="123" y="150" width="1" height="20" fill="#f05a5a"/><rect x="127" y="170" width="3" height="14" fill="#c81e1e"/><rect x="128" y="171" width="1" height="12" fill="#f05a5a"/><rect x="131" y="183" width="3" height="22" fill="#c81e1e"/><rect x="132" y="184" width="1" height="20" fill="#f05a5a"/><rect x="136" y="204" width="3" height="4" fill="#c81e1e"/><rect x="137" y="205" width="1" height="2" fill="#f05a5a"/><rect x="140" y="178" width="3" height="30" fill="#2b8a2b"/><rect x="141" y="179" width="1" height="28" fill="#6cc43c"/><rect x="145" y="160" width="3" height="19" fill="#2b8a2b"/><rect x="146" y="161" width="1" height="17" fill="#6cc43c"/><rect x="149" y="160" width="3" height="85" fill="#c81e1e"/><rect x="150" y="161" width="1" height="83" fill="#f05a5a"/><rect x="154" y="216" width="3" height="30" fill="#2b8a2b"/><rect x="155" y="217" width="1" height="28" fill="#6cc43c"/><rect x="159" y="205" width="3" height="12" fill="#2b8a2b"/><rect x="160" y="206" width="1" height="10" fill="#6cc43c"/><rect x="163" y="181" width="3" height="24" fill="#2b8a2b"/><rect x="164" y="182" width="1" height="22" fill="#6cc43c"/><rect x="168" y="181" width="3" height="12" fill="#c81e1e"/><rect x="169" y="182" width="1" height="10" fill="#f05a5a"/><rect x="172" y="192" width="3" height="10" fill="#c81e1e"/><rect x="173" y="193" width="1" height="8" fill="#f05a5a"/><rect x="177" y="179" width="3" height="21" fill="#2b8a2b"/><rect x="178" y="180" width="1" height="19" fill="#6cc43c"/><rect x="181" y="119" width="3" height="61" fill="#2b8a2b"/><rect x="182" y="120" width="1" height="59" fill="#6cc43c"/><rect x="186" y="100" width="3" height="20" fill="#2b8a2b"/><rect x="187" y="101" width="1" height="18" fill="#6cc43c"/><rect x="190" y="100" width="3" height="10" fill="#c81e1e"/><rect x="191" y="101" width="1" height="8" fill="#f05a5a"/><rect x="195" y="110" width="3" height="30" fill="#c81e1e"/><rect x="196" y="111" width="1" height="28" fill="#f05a5a"/><rect x="200" y="138" width="3" height="7" fill="#c81e1e"/><rect x="201" y="139" width="1" height="5" fill="#f05a5a"/><rect x="204" y="141" width="3" height="10" fill="#c81e1e"/><rect x="205" y="142" width="1" height="8" fill="#f05a5a"/><rect x="209" y="150" width="3" height="30" fill="#c81e1e"/><rect x="210" y="151" width="1" height="28" fill="#f05a5a"/><rect x="213" y="155" width="3" height="26" fill="#2b8a2b"/><rect x="214" y="156" width="1" height="24" fill="#6cc43c"/><rect x="218" y="155" width="3" height="8" fill="#c81e1e"/><rect x="219" y="156" width="1" height="6" fill="#f05a5a"/><rect x="222" y="157" width="3" height="6" fill="#2b8a2b"/><rect x="223" y="158" width="1" height="4" fill="#6cc43c"/><rect x="227" y="157" width="3" height="16" fill="#c81e1e"/><rect x="228" y="158" width="1" height="14" fill="#f05a5a"/><rect x="231" y="166" width="3" height="7" fill="#2b8a2b"/><rect x="232" y="167" width="1" height="5" fill="#6cc43c"/><rect x="236" y="142" width="3" height="24" fill="#2b8a2b"/><rect x="237" y="143" width="1" height="22" fill="#6cc43c"/><rect x="240" y="126" width="3" height="16" fill="#2b8a2b"/><rect x="241" y="127" width="1" height="14" fill="#6cc43c"/><rect x="245" y="126" width="3" height="48" fill="#c81e1e"/><rect x="246" y="127" width="1" height="46" fill="#f05a5a"/><rect x="250" y="160" width="3" height="14" fill="#2b8a2b"/><rect x="251" y="161" width="1" height="12" fill="#6cc43c"/><rect x="254" y="160" width="3" height="28" fill="#c81e1e"/><rect x="255" y="161" width="1" height="26" fill="#f05a5a"/><rect x="259" y="182" width="3" height="6" fill="#2b8a2b"/><rect x="260" y="183" width="1" height="4" fill="#6cc43c"/><rect x="263" y="182" width="3" height="20" fill="#c81e1e"/><rect x="264" y="183" width="1" height="18" fill="#f05a5a"/><rect x="268" y="202" width="3" height="46" fill="#c81e1e"/><rect x="269" y="203" width="1" height="44" fill="#f05a5a"/><rect x="272" y="247" width="3" height="21" fill="#c81e1e"/><rect x="273" y="248" width="1" height="19" fill="#f05a5a"/><rect x="277" y="250" width="3" height="20" fill="#2b8a2b"/><rect x="278" y="251" width="1" height="18" fill="#6cc43c"/><rect x="281" y="242" width="3" height="10" fill="#2b8a2b"/><rect x="282" y="243" width="1" height="8" fill="#6cc43c"/><rect x="286" y="238" width="3" height="6" fill="#2b8a2b"/><rect x="287" y="239" width="1" height="4" fill="#6cc43c"/><rect x="291" y="238" width="3" height="6" fill="#c81e1e"/><rect x="292" y="239" width="1" height="4" fill="#f05a5a"/><rect x="295" y="242.6" width="3" height="1.6" fill="#c51a1a"/><rect x="300" y="242.6" width="3" height="1.6" fill="#c51a1a"/><rect x="304" y="242.6" width="3" height="1.6" fill="#c51a1a"/><rect x="309" y="242.6" width="3" height="1.6" fill="#c51a1a"/><rect x="313" y="334" width="3" height="19" fill="#2b8a2b"/><rect x="314" y="335" width="1" height="17" fill="#6cc43c"/><rect x="318" y="310" width="3" height="26" fill="#2b8a2b"/><rect x="319" y="311" width="1" height="24" fill="#6cc43c"/><rect x="322" y="300" width="3" height="8" fill="#2b8a2b"/><rect x="323" y="301" width="1" height="6" fill="#6cc43c"/><rect x="327" y="300" width="3" height="75" fill="#c81e1e"/><rect x="328" y="301" width="1" height="73" fill="#f05a5a"/><rect x="332" y="373" width="3" height="28" fill="#c81e1e"/><rect x="333" y="374" width="1" height="26" fill="#f05a5a"/><rect x="336" y="388" width="3" height="13" fill="#2b8a2b"/><rect x="337" y="389" width="1" height="11" fill="#6cc43c"/><rect x="341" y="363" width="3" height="26" fill="#2b8a2b"/><rect x="342" y="364" width="1" height="24" fill="#6cc43c"/><rect x="345" y="363" width="3" height="1" fill="#c81e1e"/><rect x="350" y="363" width="3" height="30" fill="#c81e1e"/><rect x="351" y="364" width="1" height="28" fill="#f05a5a"/><rect x="354" y="381" width="3" height="13" fill="#2b8a2b"/><rect x="355" y="382" width="1" height="11" fill="#6cc43c"/><rect x="359" y="381" width="3" height="11" fill="#c81e1e"/><rect x="360" y="382" width="1" height="9" fill="#f05a5a"/><rect x="363" y="358" width="3" height="34" fill="#2b8a2b"/><rect x="364" y="359" width="1" height="32" fill="#6cc43c"/><rect x="368" y="358" width="3" height="1" fill="#c81e1e"/><rect x="372" y="358" width="3" height="64" fill="#c81e1e"/><rect x="373" y="359" width="1" height="62" fill="#f05a5a"/><rect x="377" y="391" width="3" height="31" fill="#2b8a2b"/><rect x="378" y="392" width="1" height="29" fill="#6cc43c"/><rect x="382" y="383" width="3" height="9" fill="#2b8a2b"/><rect x="383" y="384" width="1" height="7" fill="#6cc43c"/><rect x="386" y="368" width="3" height="16" fill="#2b8a2b"/><rect x="387" y="369" width="1" height="14" fill="#6cc43c"/><rect x="391" y="352" width="3" height="17" fill="#2b8a2b"/><rect x="392" y="353" width="1" height="15" fill="#6cc43c"/><rect x="395" y="349" width="3" height="4" fill="#2b8a2b"/><rect x="396" y="350" width="1" height="2" fill="#6cc43c"/><rect x="400" y="350" width="3" height="1" fill="#c81e1e"/><rect x="404" y="350" width="3" height="20" fill="#c81e1e"/><rect x="405" y="351" width="1" height="18" fill="#f05a5a"/><rect x="409" y="370" width="3" height="36" fill="#c81e1e"/><rect x="410" y="371" width="1" height="34" fill="#f05a5a"/><rect x="413" y="405" width="3" height="11" fill="#c81e1e"/><rect x="414" y="406" width="1" height="9" fill="#f05a5a"/><rect x="418" y="388" width="3" height="28" fill="#2b8a2b"/><rect x="419" y="389" width="1" height="26" fill="#6cc43c"/><rect x="423" y="368" width="3" height="21" fill="#2b8a2b"/><rect x="424" y="369" width="1" height="19" fill="#6cc43c"/><rect x="427" y="368" width="3" height="15" fill="#c81e1e"/><rect x="428" y="369" width="1" height="13" fill="#f05a5a"/><rect x="432" y="382" width="3" height="12" fill="#c81e1e"/><rect x="433" y="383" width="1" height="10" fill="#f05a5a"/><rect x="436" y="393" width="3" height="1" fill="#2b8a2b"/><rect x="441" y="394" width="3" height="26" fill="#c81e1e"/><rect x="442" y="395" width="1" height="24" fill="#f05a5a"/><rect x="445" y="419" width="3" height="31" fill="#c81e1e"/><rect x="446" y="420" width="1" height="29" fill="#f05a5a"/><rect x="450" y="449" width="3" height="16" fill="#c81e1e"/><rect x="451" y="450" width="1" height="14" fill="#f05a5a"/><rect x="454" y="458" width="3" height="7" fill="#2b8a2b"/><rect x="455" y="459" width="1" height="5" fill="#6cc43c"/><rect x="459" y="451" width="3" height="8" fill="#2b8a2b"/><rect x="460" y="452" width="1" height="6" fill="#6cc43c"/><rect x="464" y="443" width="3" height="9" fill="#2b8a2b"/><rect x="465" y="444" width="1" height="7" fill="#6cc43c"/><rect x="468" y="444" width="3" height="47" fill="#c81e1e"/><rect x="469" y="445" width="1" height="45" fill="#f05a5a"/><rect x="473" y="490" width="3" height="13" fill="#c81e1e"/><rect x="474" y="491" width="1" height="11" fill="#f05a5a"/><rect x="477" y="491" width="3" height="14" fill="#2b8a2b"/><rect x="478" y="492" width="1" height="12" fill="#6cc43c"/><rect x="482" y="491" width="3" height="12" fill="#c81e1e"/><rect x="483" y="492" width="1" height="10" fill="#f05a5a"/><rect x="486" y="502" width="3" height="45" fill="#c81e1e"/><rect x="487" y="503" width="1" height="43" fill="#f05a5a"/><rect x="491" y="545" width="3" height="2" fill="#2b8a2b"/><rect x="495" y="546" width="3" height="32" fill="#c81e1e"/><rect x="496" y="547" width="1" height="30" fill="#f05a5a"/><rect x="500" y="555" width="3" height="23" fill="#2b8a2b"/><rect x="501" y="556" width="1" height="21" fill="#6cc43c"/><rect x="505" y="555" width="3" height="13" fill="#c81e1e"/><rect x="506" y="556" width="1" height="11" fill="#f05a5a"/><rect x="509" y="565" width="3" height="3" fill="#2b8a2b"/><rect x="510" y="566" width="1" height="1" fill="#6cc43c"/><rect x="514" y="565" width="3" height="7" fill="#c81e1e"/><rect x="515" y="566" width="1" height="5" fill="#f05a5a"/><rect x="518" y="572" width="3" height="8" fill="#c81e1e"/><rect x="519" y="573" width="1" height="6" fill="#f05a5a"/><rect x="523" y="570" width="3" height="9" fill="#2b8a2b"/><rect x="524" y="571" width="1" height="7" fill="#6cc43c"/><rect x="527" y="548" width="3" height="23" fill="#2b8a2b"/><rect x="528" y="549" width="1" height="21" fill="#6cc43c"/><rect x="532" y="531" width="3" height="17" fill="#2b8a2b"/><rect x="533" y="532" width="1" height="15" fill="#6cc43c"/><rect x="536" y="530" width="3" height="33" fill="#c81e1e"/><rect x="537" y="531" width="1" height="31" fill="#f05a5a"/><rect x="541" y="548" width="3" height="15" fill="#2b8a2b"/><rect x="542" y="549" width="1" height="13" fill="#6cc43c"/><rect x="545" y="538" width="3" height="12" fill="#2b8a2b"/><rect x="546" y="539" width="1" height="10" fill="#6cc43c"/><rect x="550" y="538" width="3" height="14" fill="#c81e1e"/><rect x="551" y="539" width="1" height="12" fill="#f05a5a"/><rect x="555" y="551" width="3" height="30" fill="#c81e1e"/><rect x="556" y="552" width="1" height="28" fill="#f05a5a"/><rect x="559" y="571" width="3" height="10" fill="#2b8a2b"/><rect x="560" y="572" width="1" height="8" fill="#6cc43c"/><rect x="564" y="571" width="3" height="23" fill="#c81e1e"/><rect x="565" y="572" width="1" height="21" fill="#f05a5a"/><rect x="568" y="593" width="3" height="78" fill="#c81e1e"/><rect x="569" y="594" width="1" height="76" fill="#f05a5a"/><rect x="573" y="677" width="3" height="12" fill="#c81e1e"/><rect x="574" y="678" width="1" height="10" fill="#f05a5a"/><rect x="577" y="661" width="3" height="28" fill="#2b8a2b"/><rect x="578" y="662" width="1" height="26" fill="#6cc43c"/><rect x="582" y="670" width="3" height="4" fill="#c81e1e"/><rect x="583" y="671" width="1" height="2" fill="#f05a5a"/><rect x="586" y="637" width="3" height="39" fill="#2b8a2b"/><rect x="587" y="638" width="1" height="37" fill="#6cc43c"/><rect x="591" y="637" width="3" height="40" fill="#c81e1e"/><rect x="592" y="638" width="1" height="38" fill="#f05a5a"/><rect x="596" y="676" width="3" height="3" fill="#c81e1e"/><rect x="597" y="677" width="1" height="1" fill="#f05a5a"/><rect x="600" y="655" width="3" height="23" fill="#2b8a2b"/><rect x="601" y="656" width="1" height="21" fill="#6cc43c"/><rect x="605" y="610" width="3" height="45" fill="#2b8a2b"/><rect x="606" y="611" width="1" height="43" fill="#6cc43c"/><rect x="609" y="610" width="3" height="18" fill="#c81e1e"/><rect x="610" y="611" width="1" height="16" fill="#f05a5a"/><rect x="614" y="590" width="3" height="38" fill="#2b8a2b"/><rect x="615" y="591" width="1" height="36" fill="#6cc43c"/><rect x="618" y="590" width="3" height="2" fill="#c81e1e"/><rect x="623" y="591" width="3" height="4" fill="#c81e1e"/><rect x="624" y="592" width="1" height="2" fill="#f05a5a"/><rect x="627" y="594" width="3" height="3" fill="#c81e1e"/><rect x="628" y="595" width="1" height="1" fill="#f05a5a"/><rect x="632" y="591" width="3" height="6" fill="#2b8a2b"/><rect x="633" y="592" width="1" height="4" fill="#6cc43c"/><rect x="637" y="590" width="3" height="18" fill="#c81e1e"/><rect x="638" y="591" width="1" height="16" fill="#f05a5a"/><rect x="641" y="596" width="3" height="13" fill="#2b8a2b"/><rect x="642" y="597" width="1" height="11" fill="#6cc43c"/><rect x="646" y="592" width="3" height="5" fill="#2b8a2b"/><rect x="647" y="593" width="1" height="3" fill="#6cc43c"/><rect x="650" y="592" width="3" height="16" fill="#c81e1e"/><rect x="651" y="593" width="1" height="14" fill="#f05a5a"/><rect x="655" y="607" width="3" height="13" fill="#c81e1e"/><rect x="656" y="608" width="1" height="11" fill="#f05a5a"/><rect x="659" y="601" width="3" height="19" fill="#2b8a2b"/><rect x="660" y="602" width="1" height="17" fill="#6cc43c"/><rect x="664" y="587" width="3" height="15" fill="#2b8a2b"/><rect x="665" y="588" width="1" height="13" fill="#6cc43c"/><rect x="668" y="590" width="3" height="18" fill="#c81e1e"/><rect x="669" y="591" width="1" height="16" fill="#f05a5a"/><rect x="673" y="582" width="3" height="25" fill="#2b8a2b"/><rect x="674" y="583" width="1" height="23" fill="#6cc43c"/><rect x="677" y="550" width="3" height="33" fill="#2b8a2b"/><rect x="678" y="551" width="1" height="31" fill="#6cc43c"/><rect x="682" y="550" width="3" height="39" fill="#c81e1e"/><rect x="683" y="551" width="1" height="37" fill="#f05a5a"/><rect x="687" y="588" width="3" height="64" fill="#c81e1e"/><rect x="688" y="589" width="1" height="62" fill="#f05a5a"/><rect x="691" y="627" width="3" height="25" fill="#2b8a2b"/><rect x="692" y="628" width="1" height="23" fill="#6cc43c"/><rect x="696" y="627" width="3" height="4" fill="#c81e1e"/><rect x="697" y="628" width="1" height="2" fill="#f05a5a"/><rect x="700" y="631" width="3" height="17" fill="#c81e1e"/><rect x="701" y="632" width="1" height="15" fill="#f05a5a"/><rect x="705" y="615" width="3" height="34" fill="#2b8a2b"/><rect x="706" y="616" width="1" height="32" fill="#6cc43c"/><rect x="709" y="610" width="3" height="6" fill="#2b8a2b"/><rect x="710" y="611" width="1" height="4" fill="#6cc43c"/><rect x="714" y="610" width="3" height="24" fill="#c81e1e"/><rect x="715" y="611" width="1" height="22" fill="#f05a5a"/><rect x="718" y="587" width="3" height="47" fill="#2b8a2b"/><rect x="719" y="588" width="1" height="45" fill="#6cc43c"/><rect x="723" y="562" width="3" height="26" fill="#2b8a2b"/><rect x="724" y="563" width="1" height="24" fill="#6cc43c"/><rect x="728" y="562" width="3" height="4" fill="#c81e1e"/><rect x="729" y="563" width="1" height="2" fill="#f05a5a"/><rect x="732" y="566" width="3" height="1" fill="#2b8a2b"/><rect x="737" y="548" width="3" height="18" fill="#2b8a2b"/><rect x="738" y="549" width="1" height="16" fill="#6cc43c"/><rect x="741" y="548" width="3" height="45" fill="#c81e1e"/><rect x="742" y="549" width="1" height="43" fill="#f05a5a"/><rect x="746" y="593" width="3" height="38" fill="#c81e1e"/><rect x="747" y="594" width="1" height="36" fill="#f05a5a"/><rect x="750" y="631" width="3" height="55" fill="#c81e1e"/><rect x="751" y="632" width="1" height="53" fill="#f05a5a"/><rect x="755" y="656" width="3" height="30" fill="#2b8a2b"/><rect x="756" y="657" width="1" height="28" fill="#6cc43c"/><rect x="759" y="610" width="3" height="48" fill="#2b8a2b"/><rect x="760" y="611" width="1" height="46" fill="#6cc43c"/><rect x="764" y="569" width="3" height="42" fill="#2b8a2b"/><rect x="765" y="570" width="1" height="40" fill="#6cc43c"/><rect x="769" y="569" width="3" height="32" fill="#c81e1e"/><rect x="770" y="570" width="1" height="30" fill="#f05a5a"/><rect x="773" y="600" width="3" height="11" fill="#c81e1e"/><rect x="774" y="601" width="1" height="9" fill="#f05a5a"/><rect x="778" y="607.4" width="3" height="1.6" fill="#c51a1a"/><rect x="782" y="608" width="3" height="44" fill="#c81e1e"/><rect x="783" y="609" width="1" height="42" fill="#f05a5a"/><rect x="787" y="650.6" width="3" height="1.6" fill="#c51a1a"/><rect x="791" y="650.6" width="3" height="1.6" fill="#c51a1a"/><rect x="796" y="650.6" width="3" height="1.6" fill="#c51a1a"/><rect x="800" y="650.6" width="3" height="1.6" fill="#c51a1a"/><rect x="805" y="791" width="3" height="21" fill="#c81e1e"/><rect x="806" y="792" width="1" height="19" fill="#f05a5a"/><rect x="810" y="811" width="3" height="30" fill="#c81e1e"/><rect x="811" y="812" width="1" height="28" fill="#f05a5a"/><rect x="814" y="747" width="3" height="93" fill="#2b8a2b"/><rect x="815" y="748" width="1" height="91" fill="#6cc43c"/><rect x="819" y="690" width="3" height="57" fill="#2b8a2b"/><rect x="820" y="691" width="1" height="55" fill="#6cc43c"/><rect x="823" y="644" width="3" height="46" fill="#2b8a2b"/><rect x="824" y="645" width="1" height="44" fill="#6cc43c"/><rect x="828" y="610" width="3" height="35" fill="#2b8a2b"/><rect x="829" y="611" width="1" height="33" fill="#6cc43c"/><rect x="832" y="611" width="3" height="6" fill="#c81e1e"/><rect x="833" y="612" width="1" height="4" fill="#f05a5a"/><rect x="837" y="616" width="3" height="43" fill="#c81e1e"/><rect x="838" y="617" width="1" height="41" fill="#f05a5a"/><rect x="841" y="656" width="3" height="2" fill="#2b8a2b"/><rect x="846" y="593" width="3" height="64" fill="#2b8a2b"/><rect x="847" y="594" width="1" height="62" fill="#6cc43c"/><rect x="850" y="576" width="3" height="19" fill="#2b8a2b"/><rect x="851" y="577" width="1" height="17" fill="#6cc43c"/><rect x="855" y="574" width="3" height="35" fill="#c81e1e"/><rect x="856" y="575" width="1" height="33" fill="#f05a5a"/><rect x="860" y="609" width="3" height="12" fill="#c81e1e"/><rect x="861" y="610" width="1" height="10" fill="#f05a5a"/><rect x="864" y="620" width="3" height="6" fill="#c81e1e"/><rect x="865" y="621" width="1" height="4" fill="#f05a5a"/><rect x="869" y="596" width="3" height="30" fill="#2b8a2b"/><rect x="870" y="597" width="1" height="28" fill="#6cc43c"/><rect x="873" y="596" width="3" height="46" fill="#c81e1e"/><rect x="874" y="597" width="1" height="44" fill="#f05a5a"/><rect x="878" y="602" width="3" height="40" fill="#2b8a2b"/><rect x="879" y="603" width="1" height="38" fill="#6cc43c"/><rect x="882" y="602" width="3" height="4" fill="#c81e1e"/><rect x="883" y="603" width="1" height="2" fill="#f05a5a"/><rect x="887" y="569" width="3" height="27" fill="#2b8a2b"/><rect x="888" y="570" width="1" height="25" fill="#6cc43c"/><rect x="891" y="570" width="3" height="25" fill="#c81e1e"/><rect x="892" y="571" width="1" height="23" fill="#f05a5a"/><rect x="896" y="551" width="3" height="44" fill="#2b8a2b"/><rect x="897" y="552" width="1" height="42" fill="#6cc43c"/><rect x="901" y="544" width="3" height="8" fill="#2b8a2b"/><rect x="902" y="545" width="1" height="6" fill="#6cc43c"/><rect x="905" y="546" width="3" height="1" fill="#c81e1e"/><rect x="910" y="547" width="3" height="2" fill="#c81e1e"/><rect x="914" y="533" width="3" height="15" fill="#2b8a2b"/><rect x="915" y="534" width="1" height="13" fill="#6cc43c"/><rect x="919" y="532" width="3" height="34" fill="#c81e1e"/><rect x="920" y="533" width="1" height="32" fill="#f05a5a"/><rect x="923" y="528" width="3" height="38" fill="#2b8a2b"/><rect x="924" y="529" width="1" height="36" fill="#6cc43c"/><rect x="928" y="528" width="3" height="36" fill="#c81e1e"/><rect x="929" y="529" width="1" height="34" fill="#f05a5a"/><rect x="932" y="563" width="3" height="26" fill="#c81e1e"/><rect x="933" y="564" width="1" height="24" fill="#f05a5a"/><rect x="937" y="578" width="3" height="11" fill="#2b8a2b"/><rect x="938" y="579" width="1" height="9" fill="#6cc43c"/><rect x="942" y="573" width="3" height="6" fill="#2b8a2b"/><rect x="943" y="574" width="1" height="4" fill="#6cc43c"/><rect x="946" y="573" width="3" height="29" fill="#c81e1e"/><rect x="947" y="574" width="1" height="27" fill="#f05a5a"/><rect x="951" y="585" width="3" height="17" fill="#2b8a2b"/><rect x="952" y="586" width="1" height="15" fill="#6cc43c"/><rect x="955" y="585" width="3" height="6" fill="#c81e1e"/><rect x="956" y="586" width="1" height="4" fill="#f05a5a"/><rect x="960" y="581" width="3" height="10" fill="#2b8a2b"/><rect x="961" y="582" width="1" height="8" fill="#6cc43c"/><rect x="964" y="561" width="3" height="22" fill="#2b8a2b"/><rect x="965" y="562" width="1" height="20" fill="#6cc43c"/><rect x="969" y="561" width="3" height="18" fill="#c81e1e"/><rect x="970" y="562" width="1" height="16" fill="#f05a5a"/><rect x="973" y="578" width="3" height="8" fill="#c81e1e"/><rect x="974" y="579" width="1" height="6" fill="#f05a5a"/><rect x="978" y="585" width="3" height="12" fill="#c81e1e"/><rect x="979" y="586" width="1" height="10" fill="#f05a5a"/><rect x="982" y="576" width="3" height="21" fill="#2b8a2b"/><rect x="983" y="577" width="1" height="19" fill="#6cc43c"/><rect x="987" y="576" width="3" height="2" fill="#c81e1e"/><rect x="992" y="577" width="3" height="1" fill="#2b8a2b"/><rect x="996" y="577" width="3" height="4" fill="#c81e1e"/><rect x="997" y="578" width="1" height="2" fill="#f05a5a"/><rect x="1001" y="580" width="3" height="5" fill="#c81e1e"/><rect x="1002" y="581" width="1" height="3" fill="#f05a5a"/><rect x="1005" y="584" width="3" height="26" fill="#c81e1e"/><rect x="1006" y="585" width="1" height="24" fill="#f05a5a"/><rect x="1010" y="609" width="3" height="6" fill="#c81e1e"/><rect x="1011" y="610" width="1" height="4" fill="#f05a5a"/><rect x="1014" y="600" width="3" height="15" fill="#2b8a2b"/><rect x="1015" y="601" width="1" height="13" fill="#6cc43c"/><rect x="1019" y="594" width="3" height="7" fill="#2b8a2b"/><rect x="1020" y="595" width="1" height="5" fill="#6cc43c"/><rect x="1023" y="594" width="3" height="4" fill="#c81e1e"/><rect x="1024" y="595" width="1" height="2" fill="#f05a5a"/><rect x="1028" y="586" width="3" height="12" fill="#2b8a2b"/><rect x="1029" y="587" width="1" height="10" fill="#6cc43c"/><rect x="1033" y="586" width="3" height="16" fill="#c81e1e"/><rect x="1034" y="587" width="1" height="14" fill="#f05a5a"/><rect x="1037" y="601" width="3" height="9" fill="#c81e1e"/><rect x="1038" y="602" width="1" height="7" fill="#f05a5a"/><rect x="1042" y="590" width="3" height="20" fill="#2b8a2b"/><rect x="1043" y="591" width="1" height="18" fill="#6cc43c"/><rect x="1046" y="588" width="3" height="3" fill="#2b8a2b"/><rect x="1047" y="589" width="1" height="1" fill="#6cc43c"/><rect x="1051" y="579" width="3" height="9" fill="#2b8a2b"/><rect x="1052" y="580" width="1" height="7" fill="#6cc43c"/><rect x="1055" y="579" width="3" height="8" fill="#c81e1e"/><rect x="1056" y="580" width="1" height="6" fill="#f05a5a"/><rect x="1060" y="587" width="3" height="4" fill="#c81e1e"/><rect x="1061" y="588" width="1" height="2" fill="#f05a5a"/><rect x="1064" y="587" width="3" height="4" fill="#2b8a2b"/><rect x="1065" y="588" width="1" height="2" fill="#6cc43c"/><rect x="1069" y="583" width="3" height="5" fill="#2b8a2b"/><rect x="1070" y="584" width="1" height="3" fill="#6cc43c"/><rect x="1074" y="570" width="3" height="14" fill="#2b8a2b"/><rect x="1075" y="571" width="1" height="12" fill="#6cc43c"/><rect x="1078" y="530" width="3" height="41" fill="#2b8a2b"/><rect x="1079" y="531" width="1" height="39" fill="#6cc43c"/><rect x="1083" y="521" width="3" height="10" fill="#2b8a2b"/><rect x="1084" y="522" width="1" height="8" fill="#6cc43c"/><rect x="1087" y="521" width="3" height="17" fill="#c81e1e"/><rect x="1088" y="522" width="1" height="15" fill="#f05a5a"/><rect x="1092" y="536" width="3" height="29" fill="#c81e1e"/><rect x="1093" y="537" width="1" height="27" fill="#f05a5a"/><rect x="1096" y="554" width="3" height="11" fill="#2b8a2b"/><rect x="1097" y="555" width="1" height="9" fill="#6cc43c"/><rect x="1101" y="530" width="3" height="25" fill="#2b8a2b"/><rect x="1102" y="531" width="1" height="23" fill="#6cc43c"/><rect x="1105" y="329" width="3" height="202" fill="#2b8a2b"/><rect x="1106" y="330" width="1" height="200" fill="#6cc43c"/><rect x="1110" y="300" width="3" height="26" fill="#2b8a2b"/><rect x="1111" y="301" width="1" height="24" fill="#6cc43c"/><rect x="1115" y="273" width="3" height="27" fill="#2b8a2b"/><rect x="1116" y="274" width="1" height="25" fill="#6cc43c"/><rect x="1119" y="237" width="3" height="40" fill="#2b8a2b"/><rect x="1120" y="238" width="1" height="38" fill="#6cc43c"/><rect x="1124" y="235" width="3" height="2" fill="#2b8a2b"/><rect x="1128" y="234" width="3" height="46" fill="#c81e1e"/><rect x="1129" y="235" width="1" height="44" fill="#f05a5a"/><rect x="1133" y="280" width="3" height="58" fill="#c81e1e"/><rect x="1134" y="281" width="1" height="56" fill="#f05a5a"/><rect x="1137" y="315" width="3" height="25" fill="#2b8a2b"/><rect x="1138" y="316" width="1" height="23" fill="#6cc43c"/><rect x="1142" y="314" width="3" height="44" fill="#c81e1e"/><rect x="1143" y="315" width="1" height="42" fill="#f05a5a"/><rect x="1146" y="294" width="3" height="64" fill="#2b8a2b"/><rect x="1147" y="295" width="1" height="62" fill="#6cc43c"/><rect x="1151" y="290" width="3" height="5" fill="#2b8a2b"/><rect x="1152" y="291" width="1" height="3" fill="#6cc43c"/><rect x="1155" y="260" width="3" height="29" fill="#2b8a2b"/><rect x="1156" y="261" width="1" height="27" fill="#6cc43c"/><rect x="1160" y="254" width="3" height="47" fill="#c81e1e"/><rect x="1161" y="255" width="1" height="45" fill="#f05a5a"/><rect x="1165" y="300" width="3" height="54" fill="#c81e1e"/><rect x="1166" y="301" width="1" height="52" fill="#f05a5a"/><rect x="1169" y="303" width="3" height="52" fill="#2b8a2b"/><rect x="1170" y="304" width="1" height="50" fill="#6cc43c"/><rect x="1174" y="276" width="3" height="25" fill="#2b8a2b"/><rect x="1175" y="277" width="1" height="23" fill="#6cc43c"/><rect x="1178" y="276" width="3" height="48" fill="#c81e1e"/><rect x="1179" y="277" width="1" height="46" fill="#f05a5a"/><rect x="1183" y="323" width="3" height="2" fill="#c81e1e"/><rect x="1187" y="323" width="3" height="2" fill="#2b8a2b"/><rect x="1192" y="322" width="3" height="4" fill="#c81e1e"/><rect x="1193" y="323" width="1" height="2" fill="#f05a5a"/><rect x="1196" y="320" width="3" height="6" fill="#2b8a2b"/><rect x="1197" y="321" width="1" height="4" fill="#6cc43c"/><rect x="1201" y="321" width="3" height="43" fill="#c81e1e"/><rect x="1202" y="322" width="1" height="41" fill="#f05a5a"/><rect x="1206" y="354" width="3" height="10" fill="#2b8a2b"/><rect x="1207" y="355" width="1" height="8" fill="#6cc43c"/><rect x="1210" y="334" width="3" height="21" fill="#2b8a2b"/><rect x="1211" y="335" width="1" height="19" fill="#6cc43c"/><rect x="1215" y="314" width="3" height="21" fill="#2b8a2b"/><rect x="1216" y="315" width="1" height="19" fill="#6cc43c"/><rect x="1219" y="303" width="3" height="12" fill="#2b8a2b"/><rect x="1220" y="304" width="1" height="10" fill="#6cc43c"/><rect x="1224" y="286" width="3" height="19" fill="#2b8a2b"/><rect x="1225" y="287" width="1" height="17" fill="#6cc43c"/><rect x="1228" y="285" width="3" height="17" fill="#c81e1e"/><rect x="1229" y="286" width="1" height="15" fill="#f05a5a"/><rect x="1233" y="271" width="3" height="31" fill="#2b8a2b"/><rect x="1234" y="272" width="1" height="29" fill="#6cc43c"/><rect x="1237" y="260" width="3" height="13" fill="#2b8a2b"/><rect x="1238" y="261" width="1" height="11" fill="#6cc43c"/><rect x="1242" y="202" width="3" height="57" fill="#2b8a2b"/><rect x="1243" y="203" width="1" height="55" fill="#6cc43c"/><rect x="1247" y="202" width="3" height="19" fill="#c81e1e"/><rect x="1248" y="203" width="1" height="17" fill="#f05a5a"/><rect x="1251" y="219" width="3" height="10" fill="#c81e1e"/><rect x="1252" y="220" width="1" height="8" fill="#f05a5a"/><rect x="1256" y="228" width="3" height="9" fill="#c81e1e"/><rect x="1257" y="229" width="1" height="7" fill="#f05a5a"/><rect x="1260" y="184" width="3" height="53" fill="#2b8a2b"/><rect x="1261" y="185" width="1" height="51" fill="#6cc43c"/><rect x="1265" y="177" width="3" height="8" fill="#2b8a2b"/><rect x="1266" y="178" width="1" height="6" fill="#6cc43c"/><rect x="1269" y="178.2" width="3" height="1.6" fill="#c51a1a"/><rect x="1274" y="179" width="3" height="30" fill="#c81e1e"/><rect x="1275" y="180" width="1" height="28" fill="#f05a5a"/><rect x="1278" y="207.5" width="3" height="1.6" fill="#c51a1a"/><rect x="1283" y="207.5" width="3" height="1.6" fill="#c51a1a"/><rect x="1287" y="207.5" width="3" height="1.6" fill="#c51a1a"/><rect x="1292" y="207.5" width="3" height="1.6" fill="#c51a1a"/></g>
<rect x="1093" y="225" width="27" height="324" fill="rgb(110,150,230)" fill-opacity="0.2"/>
<rect x="1310" y="0" width="1" height="973" fill="#d4d4d4"/>
<g font-family="Liberation Sans, Arial, sans-serif" font-size="12.1" fill="#8a8a8a">
<rect x="1311" y="10" width="4" height="1" fill="#8a8a8a"/>
<text x="1321.1" y="13.9">13.775,00</text>
<rect x="1311" y="77" width="4" height="1" fill="#8a8a8a"/>
<text x="1321.1" y="80.9">13.750,00</text>
<rect x="1311" y="144" width="4" height="1" fill="#8a8a8a"/>
<text x="1321.1" y="147.9">13.725,00</text>
<rect x="1311" y="277" width="4" height="1" fill="#8a8a8a"/>
<text x="1321.1" y="280.9">13.675,00</text>
<rect x="1311" y="344" width="4" height="1" fill="#8a8a8a"/>
<text x="1321.1" y="347.9">13.650,00</text>
<rect x="1311" y="411" width="4" height="1" fill="#8a8a8a"/>
<text x="1321.1" y="414.9">13.625,00</text>
<rect x="1311" y="477" width="4" height="1" fill="#8a8a8a"/>
<text x="1321.1" y="480.9">13.600,00</text>
<rect x="1311" y="544" width="4" height="1" fill="#8a8a8a"/>
<text x="1321.1" y="547.9">13.575,00</text>
<rect x="1311" y="611" width="4" height="1" fill="#8a8a8a"/>
<text x="1321.1" y="614.9">13.550,00</text>
<rect x="1311" y="678" width="4" height="1" fill="#8a8a8a"/>
<text x="1321.1" y="681.9">13.525,00</text>
<rect x="1311" y="744" width="4" height="1" fill="#8a8a8a"/>
<text x="1321.1" y="747.9">13.500,00</text>
<rect x="1311" y="811" width="4" height="1" fill="#8a8a8a"/>
<text x="1321.1" y="814.9">13.475,00</text>
<rect x="1311" y="878" width="4" height="1" fill="#8a8a8a"/>
<text x="1321.1" y="881.9">13.450,00</text>
<rect x="1311" y="945" width="4" height="1" fill="#8a8a8a"/>
<text x="1321.1" y="948.9">13.425,00</text>
</g>
<path d="M1310,208.5 L1318.5,199 L1381,199 L1381,218 L1318.5,218 Z" fill="#f05a5a"/>
<text x="1321.1" y="212.7" font-family="Liberation Sans, Arial, sans-serif" font-size="12.1" fill="#000">13.700,93</text>
<g font-family="Liberation Sans, Arial, sans-serif" font-size="12" fill="#404040" text-anchor="middle">
<text x="42.4" y="966.8">13:00</text>
<rect x="41" y="970" width="1" height="3" fill="#404040"/>
<text x="151.4" y="966.8">15:00</text>
<rect x="150" y="970" width="1" height="3" fill="#404040"/>
<text x="261.4" y="966.8">17:00</text>
<rect x="260" y="970" width="1" height="3" fill="#404040"/>
<text x="315.4" y="966.8">9</text>
<rect x="314" y="970" width="1" height="3" fill="#404040"/>
<text x="425.4" y="966.8">11:00</text>
<rect x="424" y="970" width="1" height="3" fill="#404040"/>
<text x="534.4" y="966.8">13:00</text>
<rect x="533" y="970" width="1" height="3" fill="#404040"/>
<text x="643.4" y="966.8">15:00</text>
<rect x="642" y="970" width="1" height="3" fill="#404040"/>
<text x="752.4" y="966.8">17:00</text>
<rect x="751" y="970" width="1" height="3" fill="#404040"/>
<text x="807.4" y="966.8">10</text>
<rect x="806" y="970" width="1" height="3" fill="#404040"/>
<text x="916.4" y="966.8">11:00</text>
<rect x="915" y="970" width="1" height="3" fill="#404040"/>
<text x="1025.4" y="966.8">13:00</text>
<rect x="1024" y="970" width="1" height="3" fill="#404040"/>
<text x="1135.4" y="966.8">15:00</text>
<rect x="1134" y="970" width="1" height="3" fill="#404040"/>
<text x="1244.4" y="966.8">17:00</text>
<rect x="1243" y="970" width="1" height="3" fill="#404040"/>
</g>
<rect x="21" y="5" width="374" height="16" fill="#fff" fill-opacity="0.9"/>
<rect x="21" y="21" width="226" height="15" fill="#fff" fill-opacity="0.9"/>
<rect x="4.7" y="5" width="12.6" height="15" fill="#fff"/>
<g fill="none" stroke="#ef5b5b" stroke-width="1.05">
<rect x="6.6" y="9.5" width="1.9" height="4.2"/><line x1="7.55" y1="13.7" x2="7.55" y2="17.6"/>
<line x1="11.5" y1="7.2" x2="11.5" y2="11.3"/><rect x="10.5" y="11.3" width="1.9" height="4.3"/><line x1="11.5" y1="15.6" x2="11.5" y2="17.6"/>
<line x1="15.5" y1="9.3" x2="15.5" y2="13.3"/><rect x="14.6" y="13.3" width="1.9" height="4.2"/>
</g>
<g font-family="Liberation Sans, Arial, sans-serif" font-size="10.85" fill="#ee5555">
<text x="22.65" y="16.7">DAX (XETRA, Last)</text>
<text x="124.7" y="16.7">O: 13.700,93</text>
<text x="194.0" y="16.7">H: 13.700,93</text>
<text x="262.0" y="16.7">L: 13.700,93</text>
<text x="327.8" y="16.7">C: 13.700,93</text>
</g>
<g fill="none" stroke="#333" stroke-width="1.1"><circle cx="12.55" cy="28.4" r="5"/><polyline points="12.4,25.6 12.4,28.5 14.6,30.3"/></g>
<g font-family="Liberation Sans, Arial, sans-serif" font-size="10.85" fill="#444">
<text x="22.8" y="32.6">08.08.2022 12:15 - 17:55</text>
<text x="152.8" y="32.6">(2 Tage, 5 Minuten)</text>
</g>
</svg>
</body></html>
